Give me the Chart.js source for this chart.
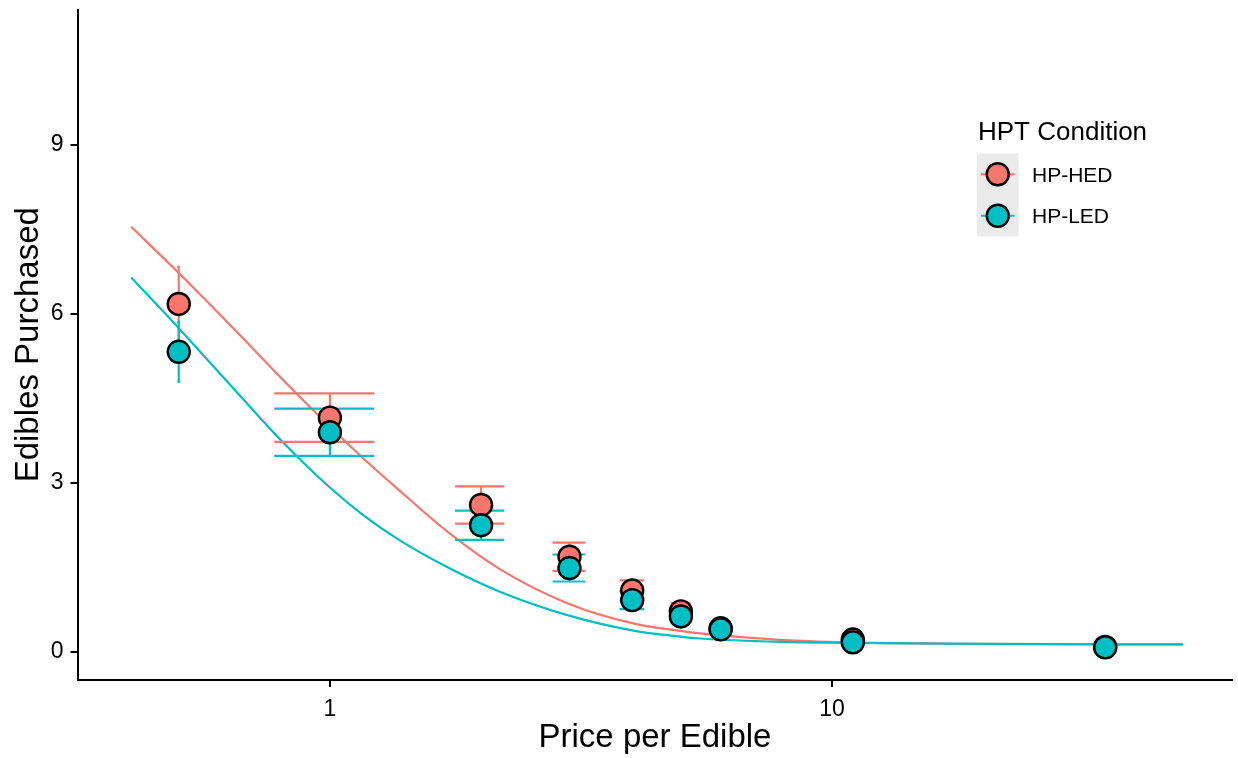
<!DOCTYPE html>
<html><head><meta charset="utf-8">
<script src="https://cdn.jsdelivr.net/npm/chart.js@4.4.0/dist/chart.umd.min.js"></script>
<style>html,body{margin:0;padding:0;background:#fff;overflow:hidden}#wrap{width:1238px;height:758px}</style>
</head><body><div id="wrap"><canvas id="c" width="1238" height="758"></canvas></div>
<script>
// ---- data ----
const prices = [0.5, 1, 2, 3, 4, 5, 6, 11, 35];
const hedMean = [6.18, 4.16, 2.61, 1.69, 1.09, 0.72, 0.42, 0.22, 0.09];
const hedSE   = [0.66, 0.43, 0.33, 0.25, 0.18, 0.15, 0.08, 0.05, 0.03];
const ledMean = [5.33, 3.90, 2.25, 1.49, 0.92, 0.63, 0.40, 0.17, 0.08];
const ledSE   = [0.53, 0.42, 0.26, 0.24, 0.16, 0.12, 0.08, 0.04, 0.02];
const capHalfWidth = [0.0035, 0.225, 0.225, 0.225, 0.225, 0.225, 0.225, 0.225, 0.225];

const curveX   = [0.402, 0.5, 0.65, 0.807, 1.0, 1.165, 1.378, 1.734, 2.18, 2.96, 4.02, 4.98, 5.46, 7.88, 10.7, 19.7, 50];
const hedCurve = [7.55, 6.73, 5.70, 4.83, 4.00, 3.44, 2.86, 2.10, 1.47, 0.87, 0.506, 0.373, 0.328, 0.213, 0.169, 0.142, 0.133];
const ledCurve = [6.65, 5.75, 4.63, 3.72, 2.92, 2.43, 1.98, 1.48, 1.07, 0.658, 0.379, 0.272, 0.238, 0.178, 0.162, 0.141, 0.133];

const xTicks = [1, 10];
const yTicks = [0, 3, 6, 9];
const xRange = [0.315, 62.6];
const yRange = [-0.49, 11.4];
const seriesNames = ['HP-HED', 'HP-LED'];
const legendTitle = 'HPT Condition';

// ---- styles ----
const RED = '#F8766D', CYAN = '#00BFC4';
const FONT = "'Liberation Sans', Arial, Helvetica, sans-serif";
Chart.defaults.font.family = FONT;

function curveData(ys){ return curveX.map((x,i)=>({x:x, y:ys[i]})); }
function pointData(ys){ return prices.map((x,i)=>({x:x, y:ys[i]})); }
function errData(means, ses){
  const out = [];
  prices.forEach((x,i)=>{
    const lo = means[i]-ses[i], hi = means[i]+ses[i], w = capHalfWidth[i];
    out.push({x:x,y:lo},{x:x,y:hi},{x:x,y:null});
    out.push({x:x-w,y:hi},{x:x+w,y:hi},{x:x,y:null});
    out.push({x:x-w,y:lo},{x:x+w,y:lo},{x:x,y:null});
  });
  return out;
}
function noPad(s){ s.paddingTop = 0; s.paddingBottom = 0; s.paddingLeft = 0; s.paddingRight = 0; }

const legendPlugin = {
  id: 'ggLegend',
  afterDraw(chart){
    const ctx = chart.ctx;
    ctx.save();
    ctx.fillStyle = '#000';
    ctx.font = '26px ' + FONT;
    ctx.textBaseline = 'alphabetic';
    ctx.textAlign = 'left';
    ctx.fillText(legendTitle, 978, 139.5);
    const keyX = 977, keyW = 41.5, keyTop = 153.5, keyH = 41.5;
    const cols = [RED, CYAN];
    seriesNames.forEach((name,i)=>{
      const y0 = keyTop + i*keyH;
      ctx.fillStyle = '#EBEBEB';
      ctx.fillRect(keyX, y0, keyW, keyH);
      const cx = keyX + keyW/2, cy = y0 + keyH/2;
      ctx.strokeStyle = cols[i]; ctx.lineWidth = 2.2;
      ctx.beginPath(); ctx.moveTo(keyX+4, cy); ctx.lineTo(keyX+keyW-4, cy); ctx.stroke();
      ctx.beginPath(); ctx.arc(cx, cy, 11, 0, Math.PI*2);
      ctx.fillStyle = cols[i]; ctx.fill();
      ctx.strokeStyle = '#000'; ctx.lineWidth = 2.4; ctx.stroke();
      ctx.fillStyle = '#000';
      ctx.font = '21px ' + FONT;
      ctx.fillText(name, 1032, cy + 7.6);
    });
    ctx.restore();
  }
};

new Chart(document.getElementById('c'), {
  type: 'line',
  data: { datasets: [
    { label: seriesNames[0]+' curve', data: curveData(hedCurve), borderColor: RED, borderWidth: 2.2, pointRadius: 0, cubicInterpolationMode: 'monotone', fill: false, order: 11 },
    { label: seriesNames[1]+' curve', data: curveData(ledCurve), borderColor: CYAN, borderWidth: 2.2, pointRadius: 0, cubicInterpolationMode: 'monotone', fill: false, order: 10 },
    { label: seriesNames[0]+' SE', data: errData(hedMean, hedSE), borderColor: RED, borderWidth: 2.2, pointRadius: 0, spanGaps: false, tension: 0, fill: false, order: 5 },
    { label: seriesNames[1]+' SE', data: errData(ledMean, ledSE), borderColor: CYAN, borderWidth: 2.2, pointRadius: 0, spanGaps: false, tension: 0, fill: false, order: 4 },
    { label: seriesNames[0], data: pointData(hedMean), showLine: false, pointRadius: 11, pointHoverRadius: 11, pointBackgroundColor: RED, pointBorderColor: '#000', pointBorderWidth: 2.4, backgroundColor: RED, borderColor: '#000', order: 1 },
    { label: seriesNames[1], data: pointData(ledMean), showLine: false, pointRadius: 11, pointHoverRadius: 11, pointBackgroundColor: CYAN, pointBorderColor: '#000', pointBorderWidth: 2.4, backgroundColor: CYAN, borderColor: '#000', order: 0 }
  ]},
  options: {
    responsive: false, animation: false, devicePixelRatio: 1, events: [],
    layout: { autoPadding: false, padding: { top: 10, right: 6, left: 0, bottom: 0 } },
    plugins: { legend: { display: false }, tooltip: { enabled: false } },
    scales: {
      x: {
        type: 'logarithmic', position: 'bottom', bounds: 'data', min: xRange[0], max: xRange[1],
        afterBuildTicks: s => { s.ticks = xTicks.map(v=>({value:v})); s.min = xRange[0]; s.max = xRange[1]; },
        afterFit: s => { s.height = 78.5; noPad(s); },
        grid: { display: true, drawOnChartArea: false, drawTicks: true, tickLength: 7.5, color: '#000', lineWidth: 2 },
        border: { display: true, color: '#000', width: 2 },
        ticks: { color: '#000', font: { size: 23 }, padding: 9, maxRotation: 0, autoSkip: false, callback: v => String(v) },
        title: { display: true, text: 'Price per Edible', color: '#000', font: { size: 33 }, padding: { top: 0, bottom: 0 } }
      },
      y: {
        type: 'linear', position: 'left', bounds: 'data', min: yRange[0], max: yRange[1],
        afterBuildTicks: s => { s.ticks = yTicks.map(v=>({value:v})); s.min = yRange[0]; s.max = yRange[1]; },
        afterFit: s => { s.width = 78; noPad(s); },
        grid: { display: true, drawOnChartArea: false, drawTicks: true, tickLength: 7.5, color: '#000', lineWidth: 2 },
        border: { display: true, color: '#000', width: 2 },
        ticks: { color: '#000', font: { size: 23 }, padding: 7, callback: v => String(v) },
        title: { display: true, text: 'Edibles Purchased', color: '#000', font: { size: 33 }, padding: { top: 9, bottom: 0 } }
      }
    }
  },
  plugins: [legendPlugin]
});
</script></body></html>
